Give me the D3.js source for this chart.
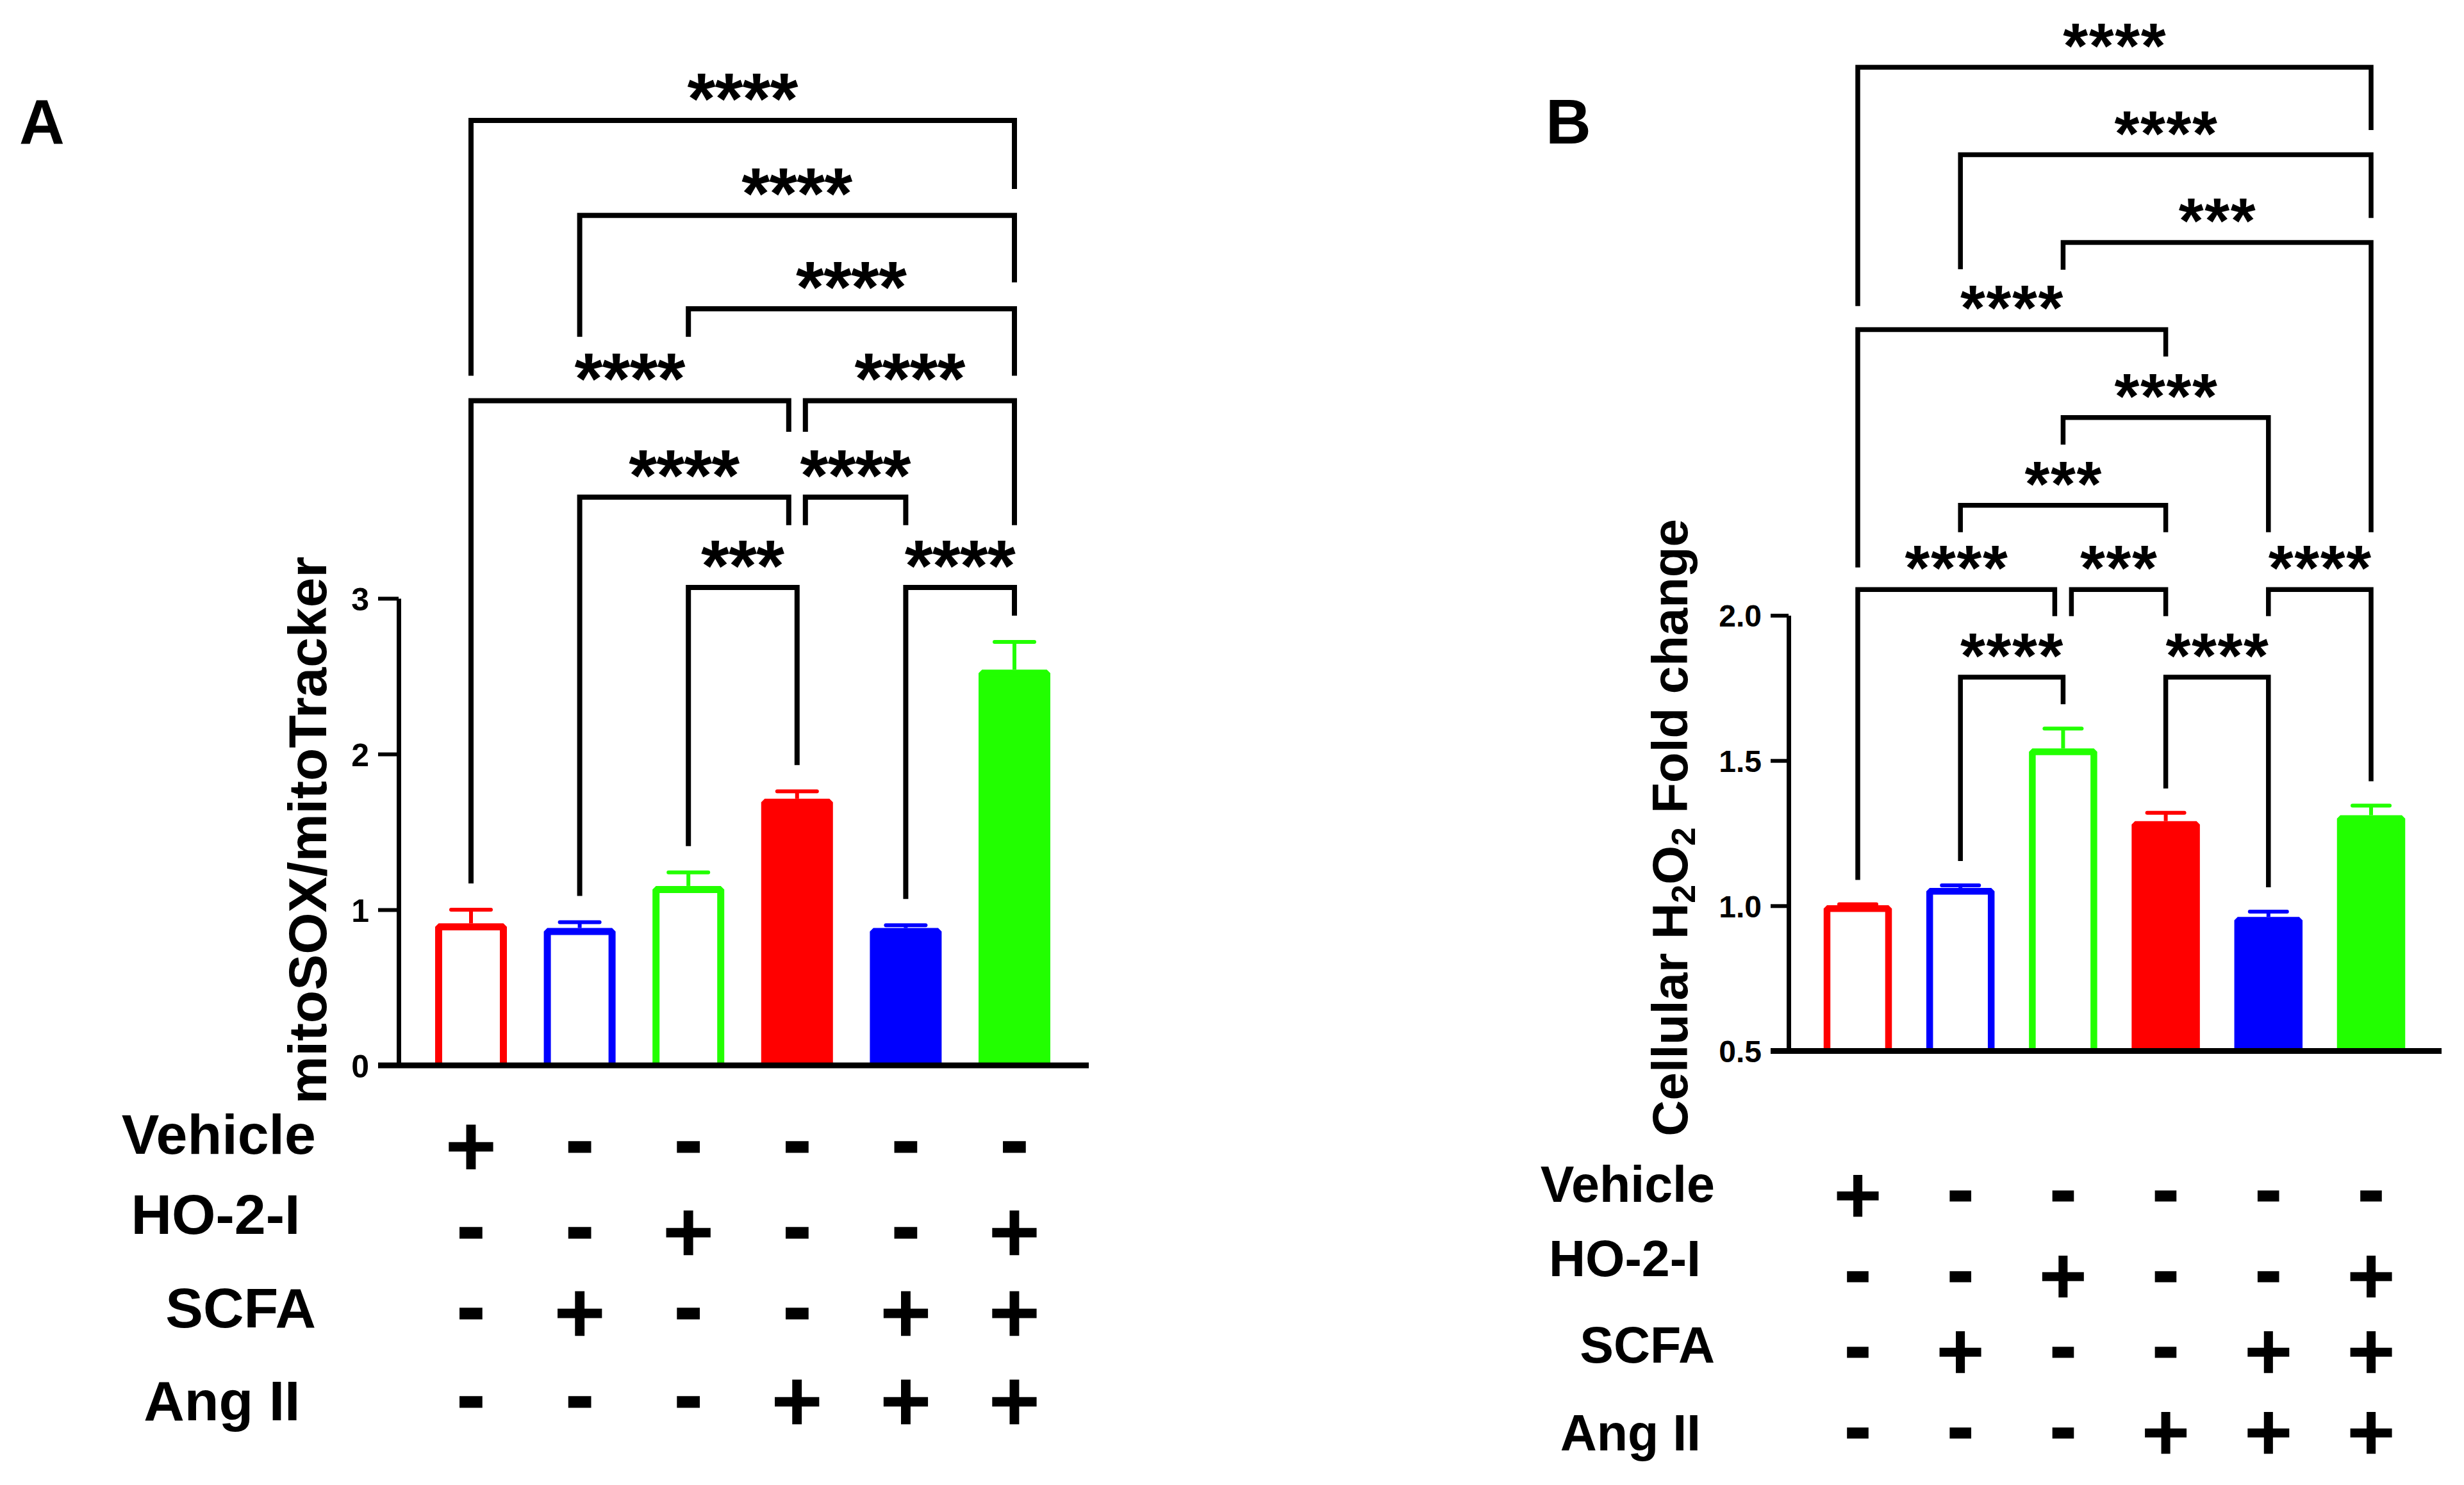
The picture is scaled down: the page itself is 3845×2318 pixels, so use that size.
<!DOCTYPE html>
<html>
<head>
<meta charset="utf-8">
<script src="https://cdn.jsdelivr.net/npm/d3@7/dist/d3.min.js"></script>
<style>
  html, body { margin: 0; padding: 0; background: #fff; }
  svg text { font-family: Arial, "Liberation Sans", Helvetica, sans-serif; font-weight: bold; fill: #000; }
  svg text.sign { font-family: "DejaVu Sans", sans-serif; stroke: #000; }
</style>
</head>
<body>
<svg id="fig" width="3845" height="2318"></svg>
<script>
// groups, left to right
const groups = ["Vehicle", "SCFA", "HO-2-I", "Ang II", "SCFA + Ang II", "HO-2-I + SCFA + Ang II"];
const barColors = ["#ff0000", "#0000ff", "#22ff00", "#ff0000", "#0000ff", "#22ff00"];
const barFilled = [false, false, false, true, true, true];

// A: mitoSOX / mitoTracker
const mitoMean = [0.89, 0.86, 1.13, 1.69, 0.86, 2.52];
const mitoSem = [0.11, 0.06, 0.11, 0.07, 0.04, 0.20];
const mitoTicks = [0, 1, 2, 3];

// B: cellular H2O2 fold change
const h2o2Mean = [0.99, 1.05, 1.53, 1.28, 0.95, 1.30];
const h2o2Sem = [0.015, 0.02, 0.08, 0.04, 0.03, 0.045];
const h2o2Ticks = [0.5, 1.0, 1.5, 2.0];

// treatment table under the bars
const rowNames = ["Vehicle", "HO-2-I ", "SCFA", "Ang II "];
const treatment = [
  ["+", "-", "-", "-", "-", "-"],
  ["-", "-", "+", "-", "-", "+"],
  ["-", "+", "-", "-", "+", "+"],
  ["-", "-", "-", "+", "+", "+"],
];

// significance brackets: [from, to, stars, height, left leg end, right leg end]
// a null leg end runs down to just above the error bar
const mitoSig = [
  [0, 5, "****", 6.07, 4.43, 5.63],
  [1, 5, "****", 5.46, 4.68, 5.03],
  [2, 5, "****", 4.86, 4.68, 4.43],
  [0, 3, "****", 4.27, null, 4.07],
  [3, 5, "****", 4.27, 4.07, 3.47],
  [1, 3, "****", 3.65, null, 3.47],
  [3, 4, "****", 3.65, 3.47, 3.47],
  [2, 3, "***", 3.07, null, null],
  [4, 5, "****", 3.07, null, null],
];
const h2o2Sig = [
  [0, 5, "****", 3.887, 3.065, 3.671],
  [1, 5, "****", 3.586, 3.192, 3.368],
  [2, 5, "***", 3.284, 3.190, 2.286],
  [0, 3, "****", 2.984, 2.165, 2.891],
  [2, 4, "****", 2.681, 2.588, 2.286],
  [1, 3, "***", 2.379, 2.286, 2.286],
  [0, 2, "****", 2.089, null, 1.997],
  [2, 3, "***", 2.089, 1.997, 1.997],
  [4, 5, "****", 2.089, 1.997, null],
  [1, 2, "****", 1.787, null, null],
  [3, 4, "****", 1.787, null, null],
];

const svg = d3.select("#fig");
const TEXT_FONT = 'Arial, "Liberation Sans", Helvetica, sans-serif';
const SIGN_FONT = '"DejaVu Sans", sans-serif';

// measure a string with canvas so glyphs can be placed by their real ink
const ctx = document.createElement("canvas").getContext("2d");
function ink(str, size, family) {
  ctx.font = `bold ${size}px ${family || TEXT_FONT}`;
  const m = ctx.measureText(str);
  return {
    asc: m.actualBoundingBoxAscent,
    desc: m.actualBoundingBoxDescent,
    w: m.actualBoundingBoxLeft + m.actualBoundingBoxRight,
    adv: m.width,
    em: m.fontBoundingBoxAscent + m.fontBoundingBoxDescent,
  };
}

function drawPanel(o) {
  const g = svg.append("g");
  const y = d3.scaleLinear().domain(o.domain).range(o.yRange);
  const x = d3.scalePoint().domain(d3.range(groups.length)).range(o.xRange);
  const base = y(o.domain[0]);

  // bars, open at the bottom so the axis line closes them
  g.selectAll("path.bar")
    .data(o.mean)
    .enter()
    .append("path")
    .attr("class", "bar")
    .attr("d", (d, i) => {
      const l = x(i) - o.barW / 2, r = x(i) + o.barW / 2;
      return `M${l},${base}V${y(d)}H${r}V${base}`;
    })
    .attr("fill", (d, i) => (barFilled[i] ? barColors[i] : "#fff"))
    .attr("stroke", (d, i) => barColors[i])
    .attr("stroke-width", o.barStroke)
    .attr("stroke-linejoin", "bevel");

  // error bars (upper only)
  const err = g.selectAll("g.err").data(o.mean).enter().append("g").attr("class", "err");
  err.append("line")
    .attr("x1", (d, i) => x(i)).attr("x2", (d, i) => x(i))
    .attr("y1", (d) => y(d) - o.barStroke / 2)
    .attr("y2", (d, i) => y(d + o.sem[i]))
    .attr("stroke", (d, i) => barColors[i]).attr("stroke-width", o.errStroke);
  err.append("line")
    .attr("x1", (d, i) => x(i) - o.capW / 2).attr("x2", (d, i) => x(i) + o.capW / 2)
    .attr("y1", (d, i) => y(d + o.sem[i])).attr("y2", (d, i) => y(d + o.sem[i]))
    .attr("stroke", (d, i) => barColors[i]).attr("stroke-width", o.errStroke)
    .attr("stroke-linecap", "round");

  // y axis
  const yAxis = d3.axisLeft(y)
    .tickValues(o.ticks)
    .tickSize(o.tickLen)
    .tickSizeOuter(0)
    .tickPadding(o.tickPad)
    .tickFormat(o.fmt);
  const ax = g.append("g").attr("transform", `translate(${o.axisX},0)`).call(yAxis);
  ax.select(".domain").attr("stroke-width", o.axisStroke);
  ax.selectAll(".tick line").attr("stroke-width", o.axisStroke - 1);
  ax.selectAll(".tick text")
    .attr("font-size", o.tickFont)
    .attr("font-family", null)
    .attr("dy", "0.36em");

  // x axis line
  g.append("line")
    .attr("x1", o.axisX - o.tickLen).attr("x2", o.xAxisEnd)
    .attr("y1", base).attr("y2", base)
    .attr("stroke", "#000").attr("stroke-width", o.baseStroke);

  // significance brackets
  const starInk = ink("*", 100);
  const starSize = (100 * o.starH) / (starInk.asc + starInk.desc);
  const sInk = ink("*", starSize);
  const starSpacing = o.starPitch - sInk.adv;
  o.sig.forEach(([a, b, label, h, le, re]) => {
    const shareL = o.sig.some((s) => s[3] === h && s[1] === a);
    const shareR = o.sig.some((s) => s[3] === h && s[0] === b);
    const xl = x(a) + (shareL ? o.joinOff : 0);
    const xr = x(b) - (shareR ? o.joinOff : 0);
    const yl = y(h);
    const endL = le === null ? y(o.mean[a] + o.sem[a]) - o.legGap : y(le);
    const endR = re === null ? y(o.mean[b] + o.sem[b]) - o.legGap : y(re);
    g.append("path")
      .attr("d", `M${xl},${endL}V${yl}H${xr}V${endR}`)
      .attr("fill", "none")
      .attr("stroke", "#000")
      .attr("stroke-width", o.sigStroke);
    // ink bottom of the stars sits starGap above the bracket line
    g.append("text")
      .attr("x", (xl + xr) / 2 + starSpacing / 2)
      .attr("y", yl - o.starGap - sInk.desc)
      .attr("text-anchor", "middle")
      .attr("font-size", starSize)
      .attr("letter-spacing", starSpacing)
      .text(label);
  });

  // treatment table; sign size from the plus width, kept small enough
  // that the rows of text do not run into each other
  const plusInk = ink("+", 100, SIGN_FONT);
  const rowGap = d3.min(d3.pairs(o.signY), ([p, q]) => q - p);
  const signSize = Math.min((100 * o.plusW) / plusInk.w, (100 * rowGap) / plusInk.em - 1);
  rowNames.forEach((name, r) => {
    g.append("text")
      .attr("x", o.rowLabelX)
      .attr("y", o.rowBase[r])
      .attr("text-anchor", "end")
      .attr("font-size", o.rowFont)
      .style("white-space", "pre")
      .text(name);
    treatment[r].forEach((s, i) => {
      const k = ink(s, signSize, SIGN_FONT);
      g.append("text")
        .attr("class", "sign")
        .attr("x", x(i))
        .attr("y", o.signY[r] + (k.asc - k.desc) / 2)
        .attr("text-anchor", "middle")
        .attr("font-size", signSize)
        .attr("stroke-width", s === "-" ? 3 : 2.5)
        .text(s);
    });
  });

  // panel letter
  g.append("text")
    .attr("x", o.letterX).attr("y", 224)
    .attr("font-size", 98)
    .text(o.letter);

  return g;
}

const gA = drawPanel({
  letter: "A", letterX: 30,
  mean: mitoMean, sem: mitoSem, ticks: mitoTicks, fmt: d3.format("d"),
  sig: mitoSig,
  domain: [0, 3], yRange: [1663, 934],
  xRange: [735, 1583], axisX: 622, xAxisEnd: 1699,
  barW: 101, barStroke: 11, errStroke: 6, capW: 62,
  tickLen: 32, tickPad: 14, tickFont: 50, axisStroke: 7, baseStroke: 9,
  sigStroke: 8, legGap: 41, joinOff: 13, starH: 43, starPitch: 43, starGap: 30,
  plusW: 74, rowFont: 88, rowLabelX: 493,
  rowBase: [1801, 1926, 2072, 2217], signY: [1790, 1924, 2050, 2188],
});

const gB = drawPanel({
  letter: "B", letterX: 2412,
  mean: h2o2Mean, sem: h2o2Sem, ticks: h2o2Ticks, fmt: d3.format(".1f"),
  sig: h2o2Sig,
  domain: [0.5, 2.0], yRange: [1640.5, 960.5],
  xRange: [2899, 3700], axisX: 2791, xAxisEnd: 3810,
  barW: 96, barStroke: 10.5, errStroke: 6, capW: 58,
  tickLen: 28, tickPad: 14, tickFont: 48, axisStroke: 7, baseStroke: 9,
  sigStroke: 7.5, legGap: 38, joinOff: 13, starH: 38, starPitch: 40.5, starGap: 30,
  plusW: 72, rowFont: 79, rowLabelX: 2676,
  rowBase: [1876, 1992, 2127, 2264], signY: [1866, 1992, 2110, 2236],
});

// y axis titles
gA.append("text")
  .attr("transform", "translate(509,1296) rotate(-90)")
  .attr("text-anchor", "middle")
  .attr("font-size", 84)
  .text("mitoSOX/mitoTracker");

const yB = gB.append("text")
  .attr("transform", "translate(2633,1292) rotate(-90)")
  .attr("text-anchor", "middle")
  .attr("font-size", 78);
yB.append("tspan").text("Cellular H");
yB.append("tspan").attr("font-size", 52).attr("dy", 12).text("2");
yB.append("tspan").attr("dy", -12).text("O");
yB.append("tspan").attr("font-size", 52).attr("dy", 12).text("2");
yB.append("tspan").attr("dy", -12).text(" Fold change");
</script>
</body>
</html>
